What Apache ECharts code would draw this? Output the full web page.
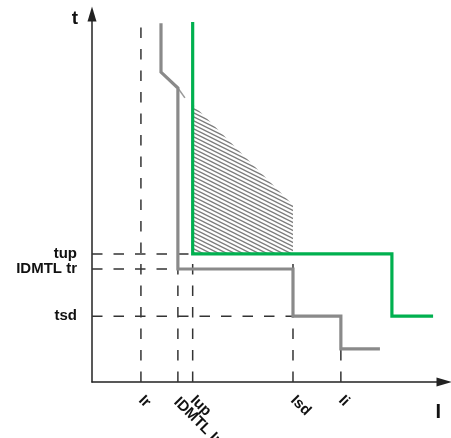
<!DOCTYPE html>
<html>
<head>
<meta charset="utf-8">
<script src="https://cdn.jsdelivr.net/npm/echarts@6/dist/echarts.min.js"></script>
<style>
  html, body { margin: 0; padding: 0; background: #fff; }
  #trip { width: 451px; height: 438px; }
</style>
</head>
<body>
<div id="trip"></div>
<script>
// current thresholds on the I axis (schematic units 0..100)
var currentNames = ['Ir', 'IDMTL Ir', 'Iup', 'Isd', 'Ii'];
var currentValues = [13.9, 24.4, 28.6, 57.1, 70.7];
// top of the dashed guide line above each current mark
var currentGuideTop = [97.8, 30.7, 34.8, 34.8, 9.0];

// time thresholds on the t axis
var timeNames = ['tup', 'IDMTL tr', 'tsd'];
var timeValues = [34.8, 30.7, 17.9];
// right end of the dashed guide line for each time mark
var timeGuideEnd = [28.6, 24.4, 57.1];

// trip curves
var grayCurve = [[19.6, 97.5], [19.6, 84.2], [24.4, 79.9], [24.4, 30.7], [57.1, 30.7],
                 [57.1, 17.9], [70.7, 17.9], [70.7, 9.0], [81.8, 9.0]];
var grayTail = [[24.4, 79.9], [26.4, 77.2]];
var greenCurve = [[28.6, 97.8], [28.6, 34.8], [85.2, 34.8], [85.2, 17.9], [96.9, 17.9]];
var hatchArea = [[28.6, 75.5], [57.1, 48.1], [57.1, 34.8], [28.6, 34.8]];

var myChart = echarts.init(document.getElementById('trip'));

// diagonal hatch pattern
var tile = document.createElement('canvas');
tile.width = 8;
tile.height = 4;
var ctx = tile.getContext('2d');
ctx.strokeStyle = '#7c7c7c';
ctx.lineWidth = 1.4;
[-4, 0, 4].forEach(function (dy) {
  ctx.beginPath();
  ctx.moveTo(-8, -4 + dy);
  ctx.lineTo(16, 8 + dy);
  ctx.stroke();
});

var dashStyle = { color: '#333', width: 1.5, type: [10.5, 11] };
var guides = [];
currentValues.forEach(function (x, i) {
  guides.push({
    type: 'line', silent: true, symbol: 'none', z: 1,
    lineStyle: dashStyle,
    data: [[x, 0], [x, currentGuideTop[i]]]
  });
});
timeValues.forEach(function (y, i) {
  guides.push({
    type: 'line', silent: true, symbol: 'none', z: 1,
    lineStyle: dashStyle,
    data: [[0, y], [timeGuideEnd[i], y]]
  });
});

var fontName = 'Liberation Sans, Arial, sans-serif';
var labelFont = { color: '#111', fontFamily: fontName, fontWeight: 'bold', fontSize: 15, lineHeight: 13 };

var option = {
  animation: false,
  grid: { left: 92, right: 7, top: 14, bottom: 56, outerBoundsMode: 'none', containLabel: false },
  xAxis: {
    type: 'value', min: 0, max: 100,
    name: 'I', nameLocation: 'end', nameGap: 0,
    nameTextStyle: { color: '#111', fontFamily: fontName, fontWeight: 'bold', fontSize: 20,
      align: 'right', verticalAlign: 'top', padding: [20, 3, 0, 0] },
    axisLine: { lineStyle: { color: '#222', width: 1.5 }, symbol: ['none', 'triangle'], symbolSize: [9, 15] },
    axisTick: { show: false },
    splitLine: { show: false },
    axisLabel: Object.assign({
      customValues: currentValues,
      rotate: -45,
      margin: 16,
      hideOverlap: false,
      formatter: function (v) {
        var name = currentNames[currentValues.indexOf(v)] || '';
        return name === 'IDMTL Ir' ? '{low|' + name + '}' : name;
      },
      rich: {
        low: { color: '#111', fontFamily: fontName, fontWeight: 'bold', fontSize: 15, padding: [5, 0, 0, 0] }
      }
    }, labelFont)
  },
  yAxis: {
    type: 'value', min: 0, max: 100,
    name: 't', nameLocation: 'end', nameGap: -5,
    nameTextStyle: { color: '#111', fontFamily: fontName, fontWeight: 'bold', fontSize: 19,
      align: 'right', verticalAlign: 'middle', padding: [0, 14, 0, 0] },
    axisLine: { show: true, lineStyle: { color: '#222', width: 1.5 }, symbol: ['none', 'triangle'], symbolSize: [9, 15] },
    axisTick: { show: false },
    splitLine: { show: false },
    axisLabel: Object.assign({
      customValues: timeValues,
      margin: 15,
      hideOverlap: false,
      formatter: function (v) { return timeNames[timeValues.indexOf(v)] || ''; }
    }, labelFont)
  },
  series: guides.concat([
    {
      type: 'custom', silent: true, z: 2,
      renderItem: function (params, api) {
        if (params.dataIndex !== 0) return;
        var pts = hatchArea.map(function (p) { return api.coord(p); });
        return {
          type: 'polygon',
          shape: { points: pts },
          style: { fill: { image: tile, repeat: 'repeat' }, stroke: null }
        };
      },
      data: [0]
    },
    {
      type: 'line', silent: true, symbol: 'none', z: 3,
      lineStyle: { color: '#9a9a9a', width: 1.5 },
      data: grayTail
    },
    {
      type: 'line', silent: true, symbol: 'none', z: 4,
      lineStyle: { color: '#8a8a8a', width: 3.2, join: 'miter' },
      data: grayCurve
    },
    {
      type: 'line', silent: true, symbol: 'none', z: 5,
      lineStyle: { color: '#00b04f', width: 3.2, join: 'miter' },
      data: greenCurve
    }
  ])
};

myChart.setOption(option);
</script>
</body>
</html>
